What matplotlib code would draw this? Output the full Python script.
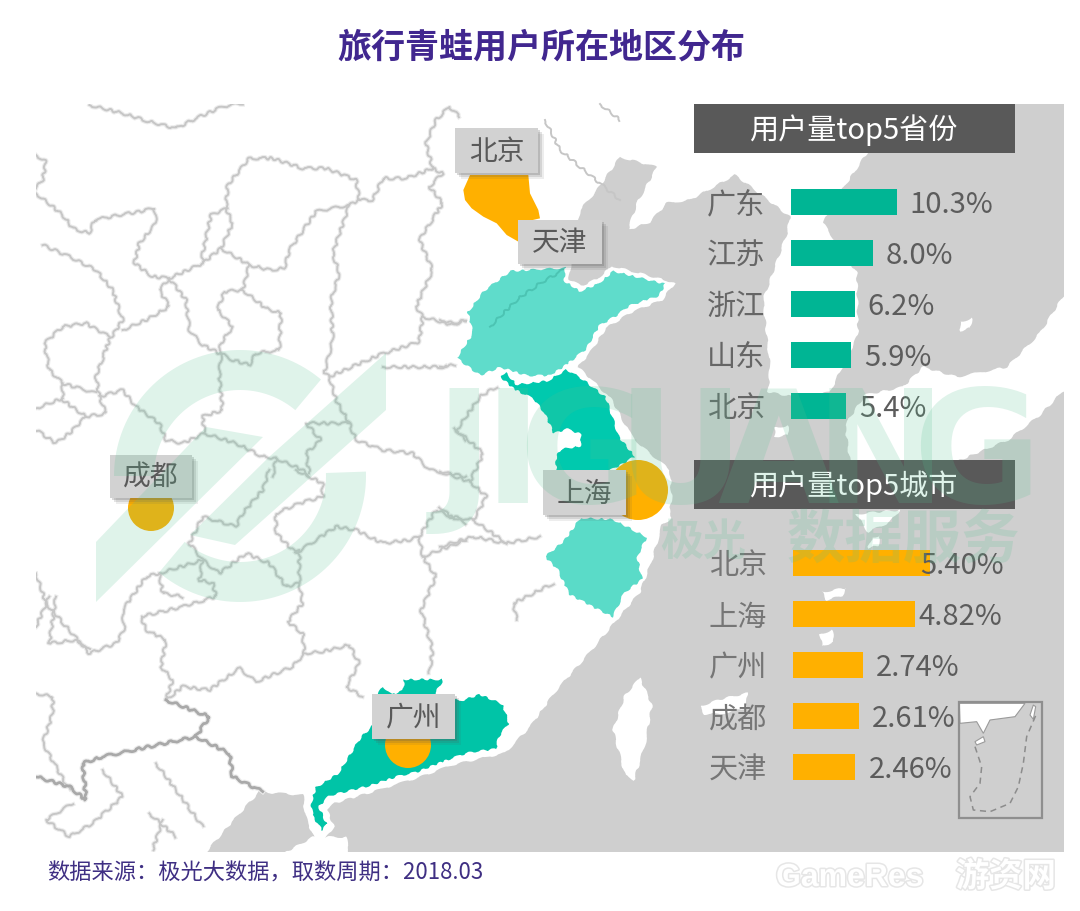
import numpy as np
import matplotlib
matplotlib.use("Agg")
import matplotlib.pyplot as plt
from matplotlib.patches import Polygon, Rectangle, Circle, PathPatch
from matplotlib.path import Path
import matplotlib.patheffects as pe

plt.rcParams['font.family'] = ['Noto Sans CJK SC', 'DejaVu Sans']

# ---------- data ----------
title_text = "旅行青蛙用户所在地区分布"
source_text = "数据来源：极光大数据，取数周期：2018.03"
province_header = "用户量top5省份"
city_header = "用户量top5城市"
provinces = ["广东", "江苏", "浙江", "山东", "北京"]
province_share = [10.3, 8.0, 6.2, 5.9, 5.4]
cities = ["北京", "上海", "广州", "成都", "天津"]
city_share = [5.40, 4.82, 2.74, 2.61, 2.46]

# ---------- colours ----------
SEA = "#cfcfcf"
BORDER = "#c6c6c6"
TEAL_BAR = "#00b594"
ORANGE = "#ffb000"
GD = "#00c4a7"
JS = "#00c9ae"
SD = "#5fdccb"
ZJ = "#5adbc8"
HEAD = "#595959"
BOX = "#d2d2d2"
WM = (87/255, 192/255, 145/255, 0.19)
W, H = 1080, 911
ROUGH = (1.3, 14, 3)
COAST = (1.0, 22, 3)

fig = plt.figure(figsize=(W/100, H/100), dpi=100, facecolor="white")
bg = fig.add_axes([0, 0, 1, 1])
bg.set_xlim(0, W)
bg.set_ylim(H, 0)
bg.axis("off")
map_frame = Rectangle((36, 104), 1028, 748, transform=bg.transData)


def z(points, ox, oy):
    return [(ox + a / 3, oy + b / 3) for a, b in points]


def z5(p): return z(p, 36, 100)
def z6(p): return z(p, 36, 470)
def z3(p): return z(p, 440, 120)
def z4(p): return z(p, 290, 660)
def z2(p): return z(p, 690, 450)


# ---------- sea and outer land ----------
sea = [(860, 80), (1090, 80), (1090, 880), (180, 880), (206, 852), (232, 822), (259, 792), (303, 795),
       (305, 815), (314, 838), (325, 840), (334, 826), (327, 810), (335, 803), (372, 792), (420, 777),
       (452, 765), (505, 753), (530, 727), (555, 692), (590, 652), (615, 622), (640, 592), (652, 560),
       (662, 525), (672, 503), (670, 470), (640, 445), (628, 430), (612, 400), (590, 378), (578, 367),
       (592, 350), (606, 328), (632, 312), (662, 300), (675, 283), (650, 276), (612, 266), (597, 279),
       (581, 286), (569, 279), (571, 262), (580, 210), (597, 190), (620, 157), (657, 167), (637, 203),
       (628, 230), (650, 222), (667, 203), (690, 200), (735, 175), (755, 190), (790, 217),
       (787, 233), (763, 300), (770, 367), (768, 392), (800, 398), (830, 392), (858, 335),
       (857, 273), (823, 223), (840, 193), (867, 153)]
p = bg.add_patch(Polygon(sea, closed=True, fc=SEA, ec="none", zorder=1))
p.set_sketch_params(*COAST)
p.set_clip_path(map_frame)

islands = [
    [(1090, 280), (1064, 295), (1040, 333), (1007, 367), (957, 377), (923, 367), (903, 387), (865, 395),
     (845, 425), (850, 462), (925, 485), (960, 460), (1008, 440), (1040, 415), (1064, 390), (1090, 375)],
    [(640, 678), (625, 695), (613, 730), (625, 775), (634, 780), (645, 745), (652, 705)],
    [(775, 427), (788, 426), (788, 435), (774, 437)],
    [(960, 322), (972, 318), (970, 328), (960, 331)],
    [(280, 870), (286, 852), (313, 837), (346, 837), (349, 852), (352, 870)],
    [(856, 514), (900, 510), (890, 522), (868, 532)],
    [(872, 538), (880, 535), (878, 546), (868, 548)],
    [(822, 592), (846, 588), (842, 596), (826, 600)],
    [(820, 634), (832, 630), (834, 642), (822, 646)],
    [(700, 706), (725, 698), (748, 693), (746, 708), (720, 714), (704, 714)],
    [(655, 510), (668, 506), (672, 518), (660, 526)],
]
for poly in islands:
    p = bg.add_patch(Polygon(poly, closed=True, fc="white", ec="none", zorder=2))
    p.set_sketch_params(*COAST)
    p.set_clip_path(map_frame)

# ---------- province borders ----------
b5 = [
    [(160, 15), (260, 40), (340, 65), (420, 85), (480, 55), (560, 20), (620, 10)],
    [(0, 165), (30, 185), (20, 240), (0, 265)],
    [(0, 280), (50, 320), (80, 345), (110, 385), (160, 400), (175, 360), (250, 345), (310, 335),
     (355, 325), (360, 370), (310, 430), (295, 490), (350, 530), (400, 535), (500, 490), (555, 445),
     (590, 370), (570, 325), (575, 255), (640, 175), (710, 175), (800, 205), (870, 205), (960, 240),
     (970, 300), (1010, 300), (1040, 235), (1110, 235), (1190, 205), (1170, 130), (1200, 60),
     (1240, 20), (1270, 50)],
    [(575, 325), (525, 345), (500, 460), (500, 490)],
    [(555, 445), (640, 495), (700, 510), (745, 505), (760, 450), (840, 335), (940, 315), (970, 300)],
    [(640, 495), (620, 570), (565, 575), (545, 630), (590, 680), (555, 730), (550, 760), (500, 735),
     (460, 690), (450, 600), (400, 535)],
    [(620, 570), (690, 625), (735, 640), (730, 750), (660, 760), (640, 795), (590, 780), (555, 760),
     (550, 830), (560, 930), (500, 950), (505, 1000), (440, 1030), (390, 1020), (370, 970),
     (300, 920), (260, 870), (190, 890), (180, 830), (220, 720), (260, 660), (230, 570), (180, 510),
     (100, 470), (20, 435)],
    [(260, 690), (330, 660), (400, 620), (370, 570), (400, 535)],
    [(220, 710), (150, 670), (80, 680), (25, 730), (40, 810), (80, 850), (180, 880)],
    [(80, 850), (80, 900), (150, 950), (210, 940), (190, 890)],
    [(0, 925), (80, 895)],
    [(150, 950), (100, 1000), (60, 1030), (0, 990)],
    [(940, 315), (890, 460), (910, 520), (885, 600), (890, 720), (865, 820), (880, 830), (1030, 765),
     (1150, 725), (1160, 650), (1140, 620), (1190, 510), (1150, 420), (1220, 310), (1180, 260),
     (1220, 220), (1190, 205)],
    [(1160, 650), (1250, 675), (1290, 660)],
    [(880, 830), (900, 900), (940, 970), (960, 1020), (1040, 1050), (1130, 1060), (1180, 1110),
     (1290, 1130)],
    [(940, 970), (810, 970), (855, 1020), (810, 1060), (820, 1120)],
    [(505, 1000), (600, 1030), (680, 1070), (720, 1075), (710, 1130)],
    [(720, 1075), (800, 1110), (820, 1130)],
    [(1040, 800), (1120, 800), (1230, 800)],
    [(1255, 985), (1290, 1020)],
]
b6 = [
    [(700, 0), (680, 60), (620, 130), (600, 170), (500, 140), (460, 220), (500, 270), (550, 310),
     (630, 250), (700, 280), (750, 350), (790, 340)],
    [(780, 0), (860, 40), (860, 80), (790, 100), (720, 130), (720, 190), (780, 250), (900, 170),
     (960, 180), (1040, 220), (1120, 210), (1150, 200), (1200, 120), (1290, 160)],
    [(790, 340), (790, 240), (780, 250)],
    [(790, 340), (800, 400), (755, 455), (800, 490), (805, 550), (770, 590), (660, 635), (610, 595),
     (520, 660), (440, 650), (390, 690), (410, 630), (375, 590), (390, 510), (330, 480), (315, 440),
     (440, 410), (540, 380), (530, 340), (490, 330), (500, 270)],
    [(1150, 200), (1160, 260), (1200, 320), (1155, 420), (1190, 540), (1180, 610)],
    [(1160, 260), (1290, 210)],
    [(805, 550), (860, 545), (940, 525), (970, 580), (930, 650), (980, 680)],
    [(0, 310), (30, 400), (160, 550), (240, 520), (265, 480), (260, 420), (330, 320), (370, 310),
     (380, 370), (440, 380)],
    [(60, 380), (40, 520), (120, 510), (160, 540)],
    [(40, 380), (0, 470)],
    [(0, 670), (50, 680), (50, 730), (20, 820), (100, 960)],
    [(360, 880), (420, 960), (500, 1070)],
    [(200, 900), (260, 980), (170, 1060), (100, 1100), (30, 1050), (110, 1000)],
    [(340, 1030), (420, 1100)],
    [(380, 1050), (350, 1140)],
    [(370, 310), (500, 270)],
]
b6_dark = [
    [(390, 690), (520, 740), (480, 800), (200, 860), (140, 880), (150, 990), (100, 950), (0, 920)],
    [(480, 800), (580, 850), (590, 920), (680, 965)],
]
b3 = [
    [(0, 600), (40, 610), (80, 600)],
    [(0, 740), (45, 735)],
    [(0, 1055), (60, 1075), (90, 1085), (140, 1130), (100, 1200), (30, 1190), (0, 1160)],
    [(100, 1200), (200, 1270), (300, 1250)],
    [(0, 1280), (100, 1250), (200, 1270)],
    [(50, 930), (120, 830), (170, 800)],
    [(50, 930), (130, 1000), (90, 1085)],
    [(230, 1500), (220, 1450), (340, 1390)],
]
b_top = [[(545, 120), (560, 150), (620, 200)], [(600, 104), (620, 120)]]
for group, fn, col, lw in [(b5, z5, BORDER, 1.4), (b6, z6, BORDER, 1.4),
                           (b3, z3, BORDER, 1.4), (b6_dark, z6, "#a9a9a9", 2.0)]:
    for line in group:
        pts = np.array(fn(line))
        l1, = bg.plot(pts[:, 0], pts[:, 1], color="#ececec", lw=lw + 1.6, solid_joinstyle="round", zorder=3)
        l2, = bg.plot(pts[:, 0], pts[:, 1], color=col, lw=lw, solid_joinstyle="round", zorder=3.1)
        for ln in (l1, l2):
            ln.set_sketch_params(*ROUGH)
            ln.set_clip_path(map_frame)
for line in b_top:
    pts = np.array(line)
    l2, = bg.plot(pts[:, 0], pts[:, 1], color=BORDER, lw=1.4, zorder=3.1)
    l2.set_sketch_params(*ROUGH)

# ---------- highlighted provinces ----------
shandong = z3([(45, 715), (95, 640), (80, 575), (130, 510), (210, 450), (380, 440), (375, 480),
               (420, 510), (470, 490), (520, 450), (600, 470), (680, 490), (660, 530), (570, 560),
               (530, 590), (480, 620), (440, 690), (370, 745), (330, 770), (260, 770), (180, 745),
               (120, 770)])
jiangsu = z3([(170, 765), (200, 755), (230, 790), (320, 780), (380, 745), (430, 775), (500, 830),
              (540, 950), (590, 1010), (540, 1040), (500, 1060), (345, 1060), (345, 1010), (360, 985),
              (420, 975), (420, 945), (380, 930), (340, 945), (310, 880), (280, 840), (220, 810)])
zhejiang = z3([(420, 1190), (520, 1195), (625, 1250), (595, 1310), (610, 1380), (555, 1420),
               (520, 1495), (460, 1465), (385, 1425), (350, 1350), (310, 1310), (370, 1260)])
guangdong = z4([(65, 470), (60, 430), (75, 380), (140, 340), (160, 310), (210, 230), (250, 190),
                (260, 100), (280, 75), (305, 100), (335, 90), (340, 55), (465, 55), (440, 100),
                (510, 120), (570, 100), (640, 130), (660, 190), (630, 230), (620, 270), (540, 280),
                (480, 300), (380, 340), (330, 350), (240, 380), (120, 410), (90, 440), (115, 495),
                (95, 515)])
for poly, col in [(shandong, SD), (jiangsu, JS), (zhejiang, ZJ), (guangdong, GD)]:
    p = bg.add_patch(Polygon(poly, closed=True, fc=col, ec="white", lw=1.6, joinstyle="round", zorder=4))
    p.set_sketch_params(1.0, 14, 3)
inner = np.array(z3([(150, 620), (230, 540), (300, 490), (370, 450)]))
l2, = bg.plot(inner[:, 0], inner[:, 1], color="#4cc4b3", lw=1.4, zorder=4.1)
l2.set_sketch_params(*ROUGH)

# ---------- city markers ----------
beijing = z3([(70, 210), (75, 240), (95, 265), (130, 290), (170, 310), (200, 345), (235, 365),
              (235, 310), (300, 295), (295, 270), (270, 220), (265, 165), (90, 165)])
bg.add_patch(Polygon(beijing, closed=True, fc=ORANGE, ec="none", zorder=5))
for xy, r in [((151, 508), 23), ((408, 745), 23), ((638, 490), 30)]:
    bg.add_patch(Circle(xy, r, fc=ORANGE, ec="none", zorder=5))

# ---------- callouts ----------
callouts = [("北京", 455, 128, 538, 173), ("天津", 518, 220, 602, 264), ("上海", 543, 470, 626, 515),
            ("广州", 372, 694, 455, 739), ("成都", 110, 455, 192, 498)]
for name, x0, y0, x1, y1 in callouts:
    for off, a in [(6, 0.10), (4, 0.16), (2, 0.22)]:
        bg.add_patch(Rectangle((x0 + off, y0 + off), x1 - x0, y1 - y0, fc="#555555", alpha=a, ec="none", zorder=6))
    bg.add_patch(Rectangle((x0, y0), x1 - x0, y1 - y0, fc=BOX, ec="none", zorder=6.5))
    bg.text((x0 + x1) / 2, (y0 + y1) / 2 + 1, name, ha="center", va="center", fontsize=20,
            color="#595959", zorder=7)

# ---------- headers ----------
for label, y0 in [(province_header, 104), (city_header, 460)]:
    bg.add_patch(Rectangle((694, y0), 321, 48.5, fc=HEAD, ec="none", zorder=6))
    bg.text(853, y0 + 26, label, ha="center", va="center", fontsize=21, color="white", zorder=7)

# ---------- inset map ----------
bg.add_patch(Polygon(z2([(808, 760), (1005, 760), (975, 800), (900, 810), (880, 850), (860, 815), (810, 820)]),
                     closed=True, fc="white", ec="#9a9a9a", lw=0.8, zorder=6))
bg.add_patch(Polygon(z2([(855, 875), (880, 860), (885, 875), (860, 885)]),
                     closed=True, fc="white", ec="#9a9a9a", lw=0.8, zorder=6))
bg.add_patch(Polygon(z2([(1020, 795), (1030, 765), (1037, 770), (1030, 808)]),
                     closed=True, fc="white", ec="#9a9a9a", lw=0.8, zorder=6))
dash = np.array(z2([(855, 890), (875, 950), (870, 1000), (840, 1040), (850, 1080), (900, 1085),
                    (960, 1060), (985, 1010), (1000, 940), (1010, 860), (1040, 790)]))
bg.plot(dash[:, 0], dash[:, 1], color="#8c8c8c", lw=1.1, ls=(0, (4, 3)), zorder=6)
bg.add_patch(Rectangle((959, 702), 83, 116, fc="none", ec="#8f8f8f", lw=1.6, zorder=6.2))


# ---------- bars ----------
def px_axes(x0, y0, x1, y1):
    ax = fig.add_axes([x0 / W, 1 - y1 / H, (x1 - x0) / W, (y1 - y0) / H], zorder=2)
    ax.patch.set_alpha(0)
    ax.axis("off")
    return ax


PT = 0.72


def bar_panel(ax, names, values, xmax, color, fmt, gaps, name_col, name_gap):
    ypos = np.arange(len(names))
    ax.barh(ypos, values, height=0.5, color=color, edgecolor="none", zorder=3)
    ax.set_xlim(0, xmax)
    ax.set_ylim(len(names) - 0.5, -0.5)
    for i, (n, v) in enumerate(zip(names, values)):
        ax.annotate(n, (0, i), xytext=(-name_gap * PT, -2.5), textcoords="offset points",
                    ha="left", va="center", fontsize=21, color=name_col, zorder=4)
        ax.annotate(fmt.format(v), (v, i), xytext=(gaps[i] * PT, -2.5), textcoords="offset points",
                    ha="left", va="center", fontsize=21, color="#5c5c5c", zorder=4)


ax_p = px_axes(791, 176.5, 996, 431.5)
bar_panel(ax_p, provinces, province_share, 20, TEAL_BAR, "{:.1f}%", [13, 13, 13, 13, 13], "#666666", 84)
ax_c = px_axes(793, 537.5, 1047, 792.5)
bar_panel(ax_c, cities, city_share, 10, ORANGE, "{:.2f}%", [-10, 3, 13, 13, 13], "#767676", 84)

# ---------- watermark ----------
top = fig.add_axes([0, 0, 1, 1], zorder=5)
top.set_xlim(0, W)
top.set_ylim(H, 0)
top.axis("off")
top.patch.set_alpha(0)


def ring(cx, cy, ro, ri, a0, a1):
    t = np.radians(np.linspace(a0, a1, 60))
    o = np.c_[cx + ro * np.cos(t), cy - ro * np.sin(t)]
    i = np.c_[cx + ri * np.cos(t[::-1]), cy - ri * np.sin(t[::-1])]
    return np.vstack([o, i])


def oriented(p):
    p = np.asarray(p, float)
    x, y = p[:, 0], p[:, 1]
    area = np.sum(x * np.roll(y, -1) - np.roll(x, -1) * y)
    return p if area > 0 else p[::-1]


pieces = [ring(240, 476, 126, 86, 50, 180),
          ring(240, 476, 126, 86, -130, 2),
          np.array([(96, 542), (206, 427), (263, 437), (96, 602)]),
          np.array([(386, 353), (386, 410), (235, 545), (190, 535), (269, 457)])]
verts, codes = [], []
for p in pieces:
    p = oriented(p)
    verts.extend(p.tolist() + [p[0].tolist()])
    codes.extend([Path.MOVETO] + [Path.LINETO] * (len(p) - 1) + [Path.CLOSEPOLY])
top.add_patch(PathPatch(Path(verts, codes), fc=WM, ec="none"))

for ch, cx in [("J", 464), ("I", 513), ("G", 583), ("U", 680), ("A", 778), ("N", 880), ("G", 977)]:
    top.text(cx, 384, ch, ha="center", va="top", fontsize=113, color=WM,
             family=["Liberation Sans Narrow", "DejaVu Sans"], fontweight="bold")
top.text(703, 542, "极光", ha="center", va="center", fontsize=31, color=WM, fontweight="bold")
top.text(903, 542, "数据服务", ha="center", va="center", fontsize=42, color=WM, fontweight="bold")

# ---------- title, source, credit ----------
top.text(541, 47.5, title_text, ha="center", va="center", fontsize=24.5, fontweight="bold", color="#41278f")
top.text(47, 873.5, source_text, ha="left", va="center", fontsize=16, color="#3f2f83")
shadow = [pe.withStroke(linewidth=2.2, foreground="#e6e6e6")]
top.text(776, 878, "GameRes", ha="left", va="center", fontsize=23, fontweight="bold", color="white",
         family=["Liberation Sans", "DejaVu Sans"], path_effects=shadow)
top.text(1056, 877, "游资网", ha="right", va="center", fontsize=24, fontweight="bold", color="white",
         path_effects=shadow)

fig.savefig("out.png", dpi=100, facecolor="white")
